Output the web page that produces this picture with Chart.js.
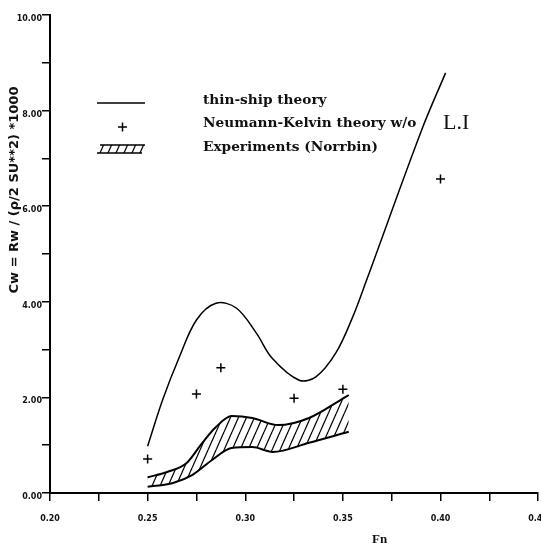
<!DOCTYPE html>
<html>
<head>
<meta charset="utf-8">
<script src="https://cdn.jsdelivr.net/npm/chart.js@4"></script>
<style>
  html, body { margin: 0; padding: 0; background: #fff; overflow: hidden; }
  #wrap { width: 561px; height: 550px; position: relative; }
</style>
</head>
<body>
<div id="wrap"><canvas id="myChart"></canvas></div>
<script>
// thin-ship theory curve
const thinFn = [0.25, 0.2577, 0.2663, 0.275, 0.285, 0.2954, 0.3056, 0.3138, 0.3276, 0.3362, 0.3464, 0.355, 0.3622, 0.3903, 0.4026];
const thinCw = [0.98, 1.95, 2.85, 3.62, 3.97, 3.87, 3.35, 2.82, 2.36, 2.43, 2.93, 3.68, 4.46, 7.59, 8.79];

// Neumann-Kelvin points
const nkFn = [0.25, 0.275, 0.2875, 0.325, 0.35, 0.40];
const nkCw = [0.71, 2.07, 2.62, 1.98, 2.17, 6.57];

// experiments band (Norrbin)
const expHiFn = [0.25, 0.26, 0.27, 0.278, 0.285, 0.293, 0.3036, 0.317, 0.3327, 0.349, 0.353];
const expHiCw = [0.33, 0.44, 0.63, 1.05, 1.38, 1.61, 1.57, 1.42, 1.57, 1.95, 2.05];
const expLoFn = [0.25, 0.263, 0.273, 0.283, 0.293, 0.3036, 0.314, 0.3327, 0.353];
const expLoCw = [0.13, 0.21, 0.38, 0.69, 0.94, 0.96, 0.86, 1.05, 1.28];

const legendLabels = ['thin-ship theory', 'Neumann-Kelvin theory w/o', 'Experiments (Norrbin)'];
const xLabelTicks = [0.20, 0.25, 0.30, 0.35, 0.40, 0.45];
const yLabelTicks = [0, 2, 4, 6, 8, 10];

const pts = (xs, ys) => xs.map((x, i) => ({x: x, y: ys[i]}));

// hatch pattern
function makeHatch() {
    const w = 8, h = 18;
    const c = document.createElement('canvas');
    c.width = w; c.height = h;
    const g = c.getContext('2d');
    g.strokeStyle = '#000';
    g.lineWidth = 1.2;
    for (let k = -1; k <= 1; k++) {
        g.beginPath();
        g.moveTo(k * w, h);
        g.lineTo(k * w + w, 0);
        g.stroke();
    }
    return g.createPattern(c, 'repeat');
}
const hatch = makeHatch();

const legendPlugin = {
    id: 'handLegend',
    afterDraw(chart) {
        const ctx = chart.ctx;
        ctx.save();
        ctx.strokeStyle = '#000';
        ctx.fillStyle = '#000';
        // line sample
        ctx.lineWidth = 1.5;
        ctx.beginPath(); ctx.moveTo(97, 103); ctx.lineTo(145, 103); ctx.stroke();
        // cross sample
        ctx.beginPath();
        ctx.moveTo(118, 127); ctx.lineTo(127, 127);
        ctx.moveTo(122.5, 122.5); ctx.lineTo(122.5, 131.5);
        ctx.stroke();
        // hatched sample
        ctx.fillStyle = hatch;
        ctx.fillRect(98, 145, 47, 8);
        ctx.lineWidth = 1.5;
        ctx.beginPath();
        ctx.moveTo(100, 145); ctx.lineTo(145, 145);
        ctx.moveTo(97, 153); ctx.lineTo(142, 153);
        ctx.stroke();

        ctx.fillStyle = '#111';
        ctx.font = 'bold 13.7px "DejaVu Serif"';
        ctx.textBaseline = 'middle';
        ctx.fillText(legendLabels[0], 203, 100);
        ctx.fillText(legendLabels[1], 203, 123);
        ctx.fillText(legendLabels[2], 203, 147);
        ctx.font = '22px "Liberation Serif"';
        ctx.fillText('L.I', 443, 123);

        // x axis title
        ctx.font = 'bold 13px "Liberation Serif"';
        ctx.fillText('Fn', 372, 540);

        // y axis title
        ctx.translate(15, 190);
        ctx.rotate(-Math.PI / 2);
        ctx.textAlign = 'center';
        ctx.font = 'bold 13px "DejaVu Sans"';
        ctx.fillText('Cw = Rw / (ρ/2 SU**2) *1000', 0, 0);
        ctx.restore();
    }
};

const config = {
    type: 'scatter',
    data: {
        datasets: [
            {
                label: legendLabels[0],
                data: pts(thinFn, thinCw),
                showLine: true,
                borderColor: '#000',
                borderWidth: 1.5,
                pointRadius: 0,
                tension: 0.35,
                fill: false,
            },
            {
                label: legendLabels[1],
                data: pts(nkFn, nkCw),
                showLine: false,
                pointStyle: 'cross',
                pointRadius: 4.5,
                borderColor: '#000',
                borderWidth: 1.5,
            },
            {
                label: legendLabels[2],
                data: pts(expHiFn, expHiCw),
                showLine: true,
                borderColor: '#000',
                borderWidth: 2,
                pointRadius: 0,
                cubicInterpolationMode: 'monotone',
                fill: '+1',
                backgroundColor: hatch,
            },
            {
                label: legendLabels[2] + ' low',
                data: pts(expLoFn, expLoCw),
                showLine: true,
                borderColor: '#000',
                borderWidth: 2,
                pointRadius: 0,
                cubicInterpolationMode: 'monotone',
                fill: false,
            },
        ]
    },
    options: {
        responsive: true,
        maintainAspectRatio: false,
        animation: false,
        layout: { padding: { top: 15, left: 0, right: 0, bottom: 0 } },
        plugins: {
            legend: { display: false },
            tooltip: { enabled: false },
        },
        scales: {
            x: {
                type: 'linear',
                min: 0.2,
                max: 0.45,
                afterFit: s => { s.height = 57; },
                border: { display: true, color: '#000', width: 2 },
                grid: { drawOnChartArea: false, drawTicks: true, tickLength: 8, color: '#000', lineWidth: 1.5 },
                ticks: {
                    stepSize: 0.025,
                    autoSkip: false,
                    maxRotation: 0,
                    padding: 13,
                    color: '#111',
                    font: { family: 'DejaVu Sans', weight: 'bold', size: 8 },
                    callback: v => xLabelTicks.some(t => Math.abs(t - v) < 1e-6) ? v.toFixed(2) : '',
                },
            },
            y: {
                min: 0,
                max: 10,
                afterFit: s => { s.width = 50; },
                border: { display: true, color: '#000', width: 2 },
                grid: { drawOnChartArea: false, drawTicks: true, tickLength: 8, color: '#000', lineWidth: 1.5 },
                ticks: {
                    stepSize: 1,
                    autoSkip: false,
                    padding: 0,
                    labelOffset: 4,
                    color: '#111',
                    font: { family: 'DejaVu Sans', weight: 'bold', size: 8 },
                    callback: v => yLabelTicks.includes(v) ? v.toFixed(2) : '',
                },
            },
        },
    },
    plugins: [legendPlugin],
};

const myChart = new Chart(document.getElementById('myChart'), config);
</script>
</body>
</html>
